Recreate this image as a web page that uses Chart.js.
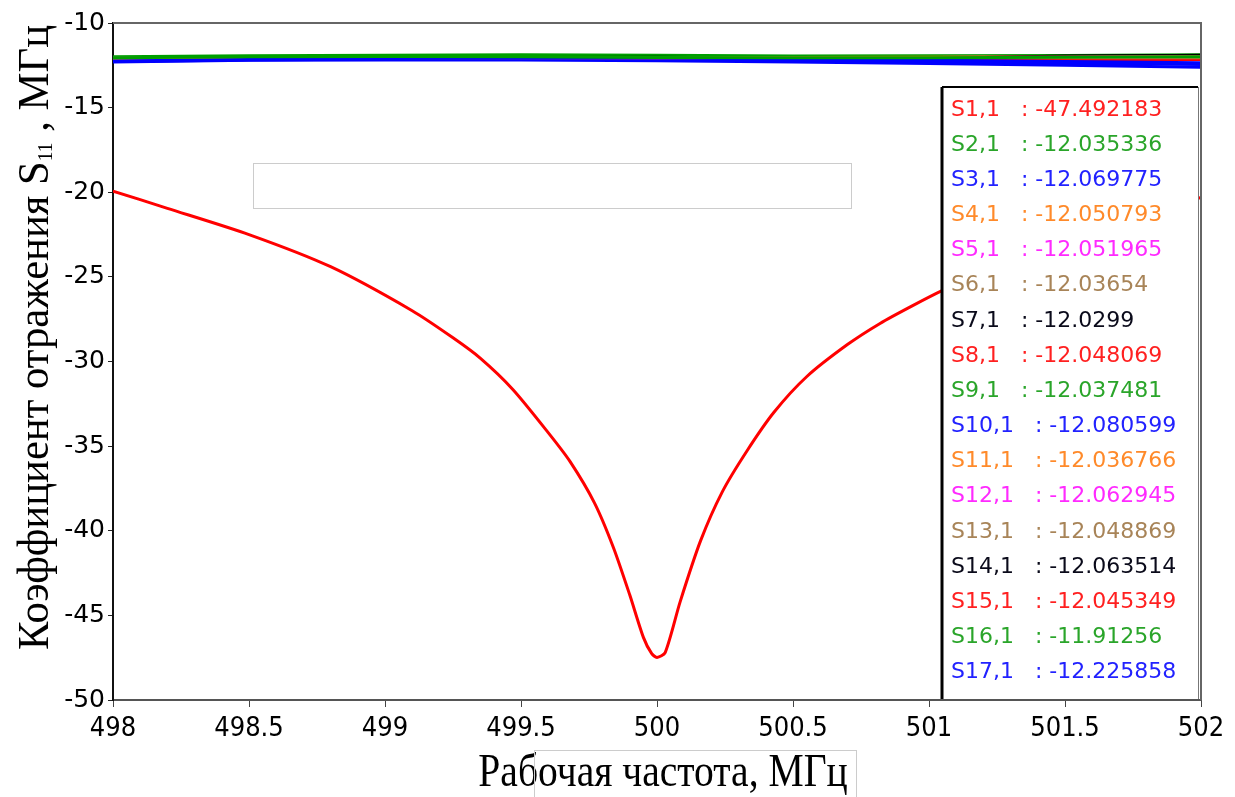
<!DOCTYPE html>
<html>
<head>
<meta charset="utf-8">
<title>S11</title>
<script src="https://cdn.jsdelivr.net/npm/chart.js@4.4.1/dist/chart.umd.min.js"></script>
<style>
  html, body { margin: 0; padding: 0; background: #fff; }
  #chartS11 { display: block; }
</style>
</head>
<body>
<canvas id="chartS11" width="1235" height="797"></canvas>
<script>
'use strict';

// S1,1 - resonance dip
const s11Freq = [498, 498.2, 498.5, 498.8, 499.1, 499.25, 499.35, 499.47, 499.6, 499.68, 499.77,
  499.84, 499.9, 499.95, 499.98, 500.0, 500.03, 500.085, 500.16, 500.24, 500.33, 500.43, 500.55,
  500.7, 500.82, 500.94, 501.05, 501.3, 501.6, 502];
const s11Db = [-19.93, -20.95, -22.5, -24.4, -27.0, -28.6, -29.8, -31.65, -34.2, -35.9, -38.35,
  -41.0, -43.8, -46.3, -47.25, -47.49, -47.2, -44.2, -40.6, -37.7, -35.3, -33.0, -30.9,
  -29.0, -27.75, -26.7, -25.8, -24.0, -22.2, -20.3];

// S2,1 ... S17,1 - almost flat
const flatFreq = [498, 498.5, 499, 499.5, 500, 500.5, 501, 501.5, 502];
const s21 = [-12.05, -12.0, -11.98, -11.99, -12.04, -12.06, -12.05, -12.02, -12.0];
const s31 = [-12.25, -12.15, -12.1, -12.08, -12.07, -12.12, -12.2, -12.28, -12.35];
const s41 = [-12.1, -12.08, -12.06, -12.05, -12.05, -12.06, -12.04, -12.02, -12.0];
const s51 = [-12.08, -12.07, -12.06, -12.05, -12.05, -12.05, -12.04, -12.03, -11.98];
const s61 = [-12.08, -12.06, -12.05, -12.04, -12.04, -12.05, -12.06, -12.06, -12.05];
const s71 = [-12.15, -12.1, -12.06, -12.04, -12.03, -12.08, -12.1, -11.95, -11.92];
const s81 = [-12.12, -12.1, -12.07, -12.06, -12.05, -12.1, -12.13, -12.16, -12.15];
const s91 = [-12.06, -12.02, -12.0, -12.0, -12.04, -12.08, -12.07, -12.05, -12.0];
const s101 = [-12.28, -12.18, -12.12, -12.1, -12.08, -12.18, -12.28, -12.38, -12.45];
const s111 = [-12.1, -12.07, -12.05, -12.04, -12.04, -12.04, -12.02, -12.0, -12.05];
const s121 = [-12.1, -12.08, -12.07, -12.06, -12.06, -12.05, -12.04, -12.02, -11.95];
const s131 = [-12.1, -12.07, -12.06, -12.05, -12.05, -12.06, -12.06, -12.05, -12.04];
const s141 = [-12.15, -12.1, -12.08, -12.07, -12.06, -12.1, -12.12, -11.98, -11.9];
const s151 = [-12.15, -12.1, -12.07, -12.05, -12.05, -12.1, -12.12, -12.18, -12.16];
const s161 = [-12.0, -11.94, -11.9, -11.88, -11.91, -11.95, -11.93, -11.92, -11.88];
const s171 = [-12.3, -12.2, -12.18, -12.18, -12.23, -12.3, -12.4, -12.5, -12.62];

const seriesNames = ['S1,1', 'S2,1', 'S3,1', 'S4,1', 'S5,1', 'S6,1', 'S7,1', 'S8,1', 'S9,1',
  'S10,1', 'S11,1', 'S12,1', 'S13,1', 'S14,1', 'S15,1', 'S16,1', 'S17,1'];
const markerValues = ['-47.492183', '-12.035336', '-12.069775', '-12.050793', '-12.051965', '-12.03654',
  '-12.0299', '-12.048069', '-12.037481', '-12.080599', '-12.036766', '-12.062945', '-12.048869',
  '-12.063514', '-12.045349', '-11.91256', '-12.225858'];

const xTickValues = [498, 498.5, 499, 499.5, 500, 500.5, 501, 501.5, 502];
const yTickValues = [-10, -15, -20, -25, -30, -35, -40, -45, -50];

const lineColors = ['#ff0000', '#00a000', '#0000ff', '#ff8000', '#ff00ff', '#a87c50', '#000000'];
const textColors = ['#ff2020', '#2aa52a', '#2222ff', '#ff8a2a', '#ff2aff', '#a88458', '#0a0a1a'];

const flatSeries = [s21, s31, s41, s51, s61, s71, s81, s91, s101, s111, s121, s131, s141, s151, s161, s171];

const datasets = [{
  label: seriesNames[0],
  data: s11Freq.map((f, i) => ({ x: f, y: s11Db[i] })),
  borderColor: lineColors[0],
  borderWidth: 3,
  tension: 0.25
}];
flatSeries.forEach((vals, k) => {
  datasets.push({
    label: seriesNames[k + 1],
    data: flatFreq.map((f, i) => ({ x: f, y: vals[i] })),
    borderColor: lineColors[(k + 1) % 7],
    borderWidth: 3
  });
});

const markerBox = {
  id: 'markerBox',
  afterDatasetsDraw(chart) {
    const ctx = chart.ctx, a = chart.chartArea, x = chart.scales.x, y = chart.scales.y;

    // empty frame left on the plot
    ctx.save();
    ctx.strokeStyle = '#cccccc';
    ctx.lineWidth = 1;
    const bl = Math.round(x.getPixelForValue(498.513)) + 0.5;
    const br = Math.round(x.getPixelForValue(500.715)) + 0.5;
    const bt = Math.round(y.getPixelForValue(-18.28)) + 0.5;
    const bb = Math.round(y.getPixelForValue(-20.95)) + 0.5;
    ctx.strokeRect(bl, bt, br - bl, bb - bt);

    // marker readout box
    const left = a.right - 259, top = a.top + 64, right = a.right - 3, bottom = a.bottom - 1;
    ctx.fillStyle = '#ffffff';
    ctx.fillRect(left, top, right - left, bottom - top);
    ctx.strokeStyle = '#000';
    ctx.lineWidth = 2;
    ctx.beginPath(); ctx.moveTo(left, top); ctx.lineTo(right, top); ctx.stroke();
    ctx.lineWidth = 3;
    ctx.beginPath(); ctx.moveTo(left, top); ctx.lineTo(left, bottom); ctx.stroke();
    ctx.strokeStyle = '#777';
    ctx.lineWidth = 1;
    ctx.beginPath(); ctx.moveTo(right + 0.5, top); ctx.lineTo(right + 0.5, bottom); ctx.stroke();

    ctx.font = '22px "DejaVu Sans"';
    ctx.textBaseline = 'middle';
    seriesNames.forEach((name, i) => {
      ctx.fillStyle = textColors[i % 7];
      ctx.fillText(name + '   : ' + markerValues[i], left + 9, top + 23 + i * 35.15);
    });
    ctx.restore();
  },
  afterDraw(chart) {
    const ctx = chart.ctx, a = chart.chartArea;
    ctx.save();
    // top and right frame
    ctx.strokeStyle = '#666';
    ctx.lineWidth = 2;
    ctx.beginPath();
    ctx.moveTo(a.left, a.top);
    ctx.lineTo(a.right, a.top);
    ctx.lineTo(a.right, a.bottom);
    ctx.stroke();

    // x title
    ctx.fillStyle = '#000';
    ctx.textBaseline = 'alphabetic';
    ctx.font = '46px "Liberation Serif"';
    const xt = 'Рабочая частота, МГц';
    const cx = (a.left + a.right) / 2 + 6;
    ctx.save();
    ctx.translate(cx, 786);
    ctx.scale(0.86, 1);
    ctx.textAlign = 'center';
    ctx.fillText(xt, 0, 0);
    ctx.restore();
    ctx.strokeStyle = '#cccccc';
    ctx.lineWidth = 1;
    ctx.strokeRect(534.5, 750.5, 322, 50);

    // y title with subscript
    const p1 = 'Коэффициент отражения S', p2 = '11', p3 = ' , МГц';
    ctx.font = '44px "Liberation Serif"';
    const w1 = ctx.measureText(p1).width, w3 = ctx.measureText(p3).width;
    ctx.font = '20px "Liberation Serif"';
    const w2 = ctx.measureText(p2).width;
    const total = w1 + w2 + w3;
    ctx.save();
    ctx.translate(48, (a.top + a.bottom) / 2 - 24);
    ctx.rotate(-Math.PI / 2);
    ctx.scale(0.97, 1);
    ctx.textAlign = 'left';
    ctx.font = '44px "Liberation Serif"';
    ctx.fillText(p1, -total / 2, 0);
    ctx.font = '20px "Liberation Serif"';
    ctx.fillText(p2, -total / 2 + w1, 4);
    ctx.font = '44px "Liberation Serif"';
    ctx.fillText(p3, -total / 2 + w1 + w2, 0);
    ctx.restore();
    ctx.restore();
  }
};

new Chart(document.getElementById('chartS11'), {
  type: 'line',
  data: { datasets: datasets },
  options: {
    responsive: false,
    animation: false,
    parsing: false,
    layout: { padding: { top: 23, right: 34, left: 0, bottom: 0 } },
    elements: { point: { radius: 0 }, line: { tension: 0 } },
    plugins: { legend: { display: false }, tooltip: { enabled: false } },
    scales: {
      x: {
        type: 'linear',
        min: 498,
        max: 502,
        afterBuildTicks: s => { s.ticks = xTickValues.map(v => ({ value: v })); },
        afterFit: s => { s.height = 97; },
        ticks: {
          maxRotation: 0,
          autoSkip: false,
          padding: 6,
          color: '#000',
          font: { family: '"DejaVu Sans Condensed", sans-serif', size: 27 },
          callback: v => String(v)
        },
        grid: { drawOnChartArea: false, tickLength: 7, color: '#444' },
        border: { color: '#555', width: 2 }
      },
      y: {
        min: -50,
        max: -10,
        afterBuildTicks: s => { s.ticks = yTickValues.map(v => ({ value: v })); },
        afterFit: s => { s.width = 113; },
        ticks: {
          padding: 3,
          color: '#000',
          font: { family: '"DejaVu Sans", sans-serif', size: 25 },
          callback: v => String(v)
        },
        grid: { drawOnChartArea: false, tickLength: 5, color: '#222' },
        border: { color: '#111', width: 2 }
      }
    }
  },
  plugins: [markerBox]
});
</script>
</body>
</html>
